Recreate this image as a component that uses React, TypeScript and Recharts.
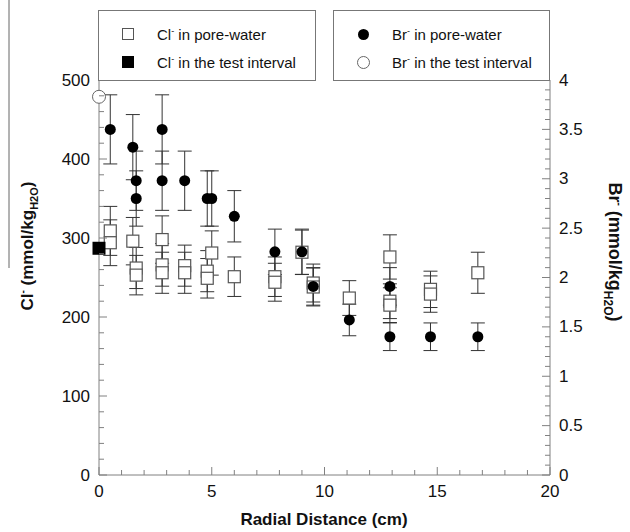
import React from "react";
import { ScatterChart, Scatter, XAxis, YAxis, ErrorBar, CartesianGrid } from "recharts";

// Cl- in pore-water (open squares), mmol/kg H2O
const clPoreX = [0.5, 0.5, 1.5, 1.65, 1.65, 2.8, 2.8, 2.8, 3.8, 3.8, 4.8, 4.8, 5.0, 6.0, 7.8, 7.8, 9.0, 9.5, 9.5, 11.1, 12.9, 12.9, 12.9, 14.7, 14.7, 16.8];
const clPoreY = [309, 294, 296, 262, 253, 298, 266, 256, 265, 256, 258, 249, 281, 251, 251, 244, 282, 243, 238, 224, 276, 220, 215, 235, 229, 256];
const clPoreErr = [31, 29, 30, 26, 25, 30, 27, 26, 26, 26, 26, 25, 28, 25, 25, 24, 28, 24, 24, 22, 28, 22, 22, 23, 23, 26];

// Br- in pore-water (filled circles)
const brPoreX = [0.5, 1.5, 1.65, 1.65, 2.8, 2.8, 3.8, 4.8, 5.0, 6.0, 7.8, 9.0, 9.5, 11.1, 12.9, 12.9, 14.7, 16.8];
const brPoreY = [3.5, 3.32, 2.98, 2.8, 3.5, 2.98, 2.98, 2.8, 2.8, 2.62, 2.26, 2.26, 1.91, 1.57, 1.91, 1.4, 1.4, 1.4];
const brPoreErr = [0.35, 0.33, 0.3, 0.28, 0.35, 0.3, 0.3, 0.28, 0.28, 0.26, 0.23, 0.23, 0.19, 0.16, 0.19, 0.14, 0.14, 0.14];

// test interval values
const clTestX = [0];
const clTestY = [287];
const brTestX = [0];
const brTestY = [3.83];

const xMajorTicks = [0, 5, 10, 15, 20];
const clMajorTicks = [0, 100, 200, 300, 400, 500];
const brMajorTicks = [0, 0.5, 1, 1.5, 2, 2.5, 3, 3.5, 4];

const xTicks = Array.from({ length: 21 }, (_, i) => i);
const clTicks = Array.from({ length: 26 }, (_, i) => i * 20);
const brTicks = Array.from({ length: 41 }, (_, i) => i / 10);

const clPore = clPoreX.map((x, i) => ({ x, y: clPoreY[i], err: clPoreErr[i] }));
const brPore = brPoreX.map((x, i) => ({ x, y: brPoreY[i], err: brPoreErr[i] }));
const clTest = clTestX.map((x, i) => ({ x, y: clTestY[i] }));
const brTest = brTestX.map((x, i) => ({ x, y: brTestY[i] }));

const axisColor = "#808080";
const ink = "#111";
const font = '"Liberation Sans", Arial, Helvetica, sans-serif';

function isMajor(list: number[], v: number) {
  return list.some((m) => Math.abs(m - v) < 1e-6);
}

function BottomTick({ x, y, payload }: any) {
  const major = isMajor(xMajorTicks, payload.value);
  return (
    <g>
      <line x1={x} x2={x} y1={y} y2={y - (major ? 8 : 5)} stroke={axisColor} />
      {major && (
        <text x={x} y={y + 16} textAnchor="middle" dominantBaseline="central" fontSize={17} fill={ink} fontFamily={font}>
          {payload.value}
        </text>
      )}
    </g>
  );
}

function TopTick({ x, y, payload }: any) {
  const major = isMajor(xMajorTicks, payload.value);
  return <line x1={x} x2={x} y1={y} y2={y + (major ? 8 : 5)} stroke={axisColor} />;
}

function LeftTick({ x, y, payload }: any) {
  const major = isMajor(clMajorTicks, payload.value);
  return (
    <g>
      <line x1={x} x2={x + (major ? 8 : 5)} y1={y} y2={y} stroke={axisColor} />
      {major && (
        <text x={x - 9} y={y} textAnchor="end" dominantBaseline="central" fontSize={17} fill={ink} fontFamily={font}>
          {payload.value}
        </text>
      )}
    </g>
  );
}

function RightTick({ x, y, payload }: any) {
  const major = isMajor(brMajorTicks, payload.value);
  return (
    <g>
      <line x1={x} x2={x - (major ? 8 : 5)} y1={y} y2={y} stroke={axisColor} />
      {major && (
        <text x={x + 9} y={y} textAnchor="start" dominantBaseline="central" fontSize={17} fill={ink} fontFamily={font}>
          {payload.value}
        </text>
      )}
    </g>
  );
}

const openSquare = (p: any) => <rect x={p.cx - 6} y={p.cy - 6} width={12} height={12} fill="#fff" stroke="#555" strokeWidth={1.2} />;
const filledSquare = (p: any) => <rect x={p.cx - 6.5} y={p.cy - 6.5} width={13} height={13} fill="#000" />;
const filledCircle = (p: any) => <circle cx={p.cx} cy={p.cy} r={5.5} fill="#000" />;
const openCircle = (p: any) => <circle cx={p.cx} cy={p.cy} r={6.5} fill="#fff" stroke="#666" strokeWidth={1} />;

const legendBox: React.CSSProperties = {
  position: "absolute",
  top: 10,
  height: 69,
  border: "1px solid #777",
  background: "#fff",
  fontFamily: font,
  fontSize: 15,
  color: ink,
};

function LegendRow({ top, icon, label }: { top: number; icon: React.ReactNode; label: React.ReactNode }) {
  return (
    <div style={{ position: "absolute", top, left: 0, height: 18, display: "flex", alignItems: "center", whiteSpace: "nowrap" }}>
      <div style={{ width: 58, display: "flex", justifyContent: "center" }}>{icon}</div>
      <span>{label}</span>
    </div>
  );
}

const sup = (s: string) => <sup style={{ fontSize: 9, verticalAlign: "6px" }}>{s}</sup>;

export default function App() {
  return (
    <div style={{ position: "absolute", left: 0, top: 0, width: 630, height: 532, background: "#fff" }}>
      <ScatterChart width={630} height={532} margin={{ top: 80, right: 0, bottom: 0, left: 0 }}>
        <CartesianGrid horizontal={false} verticalValues={[0]} yAxisId="cl" stroke={axisColor} />
        <XAxis
          xAxisId={0}
          type="number"
          dataKey="x"
          domain={[0, 20]}
          ticks={xTicks}
          interval={0}
          tickSize={0}
          tickMargin={0}
          tick={<BottomTick />}
          height={57}
          stroke={axisColor}
        />
        <XAxis
          xAxisId="top"
          orientation="top"
          type="number"
          dataKey="x"
          domain={[0, 20]}
          ticks={xTicks}
          interval={0}
          tickSize={0}
          tickMargin={0}
          tick={<TopTick />}
          height={0}
          stroke={axisColor}
          allowDataOverflow
        />
        <YAxis
          yAxisId="cl"
          type="number"
          dataKey="y"
          domain={[0, 500]}
          ticks={clTicks}
          interval={0}
          tickSize={0}
          tickMargin={0}
          tick={<LeftTick />}
          width={99}
          axisLine={false}
        />
        <YAxis
          yAxisId="br"
          orientation="right"
          type="number"
          dataKey="y"
          domain={[0, 4]}
          ticks={brTicks}
          interval={0}
          tickSize={0}
          tickMargin={0}
          tick={<RightTick />}
          width={80}
          stroke={axisColor}
        />
        <Scatter data={clPore} yAxisId="cl" shape={openSquare} isAnimationActive={false}>
          <ErrorBar dataKey="err" direction="y" width={7} stroke="#333" strokeWidth={1} />
        </Scatter>
        <Scatter data={clTest} yAxisId="cl" shape={filledSquare} isAnimationActive={false} />
        <Scatter data={brPore} yAxisId="br" shape={filledCircle} isAnimationActive={false}>
          <ErrorBar dataKey="err" direction="y" width={7} stroke="#333" strokeWidth={1} />
        </Scatter>
        <Scatter data={brTest} yAxisId="br" shape={openCircle} isAnimationActive={false} />
      </ScatterChart>

      <svg width={630} height={532} style={{ position: "absolute", left: 0, top: 0, pointerEvents: "none" }}>
        <line x1={9} x2={9} y1={0} y2={268} stroke="#666" strokeWidth={1} />
        <text transform="translate(33,246) rotate(-90)" textAnchor="middle" fontFamily={font} fontWeight="bold" fontSize={17} fill={ink}>
          Cl<tspan dy={-7} fontSize={10}>-</tspan>
          <tspan dy={7}> (mmol/kg</tspan>
          <tspan dy={5} fontSize={11}>H2O</tspan>
          <tspan dy={-5}>)</tspan>
        </text>
        <text transform="translate(609,252) rotate(90)" textAnchor="middle" fontFamily={font} fontWeight="bold" fontSize={18} fill={ink}>
          Br<tspan dy={-7} fontSize={10}>-</tspan>
          <tspan dy={7}> (mmol/kg</tspan>
          <tspan dy={5} fontSize={12}>H2O</tspan>
          <tspan dy={-5}>)</tspan>
        </text>
        <text x={324} y={519} textAnchor="middle" dominantBaseline="central" fontFamily={font} fontWeight="bold" fontSize={17} fill={ink}>
          Radial Distance (cm)
        </text>
      </svg>

      <div style={{ ...legendBox, left: 98, width: 216 }}>
        <LegendRow
          top={14}
          icon={<div style={{ width: 10, height: 10, border: "1px solid #555", background: "#fff" }} />}
          label={<>Cl{sup("-")} in pore-water</>}
        />
        <LegendRow
          top={42}
          icon={<div style={{ width: 12, height: 12, background: "#000" }} />}
          label={<>Cl{sup("-")} in the test interval</>}
        />
      </div>
      <div style={{ ...legendBox, left: 333, width: 215 }}>
        <LegendRow
          top={14}
          icon={<div style={{ width: 11, height: 11, borderRadius: "50%", background: "#000" }} />}
          label={<>Br{sup("-")} in pore-water</>}
        />
        <LegendRow
          top={42}
          icon={<div style={{ width: 11, height: 11, borderRadius: "50%", border: "1px solid #666", background: "#fff" }} />}
          label={<>Br{sup("-")} in the test interval</>}
        />
      </div>
    </div>
  );
}
